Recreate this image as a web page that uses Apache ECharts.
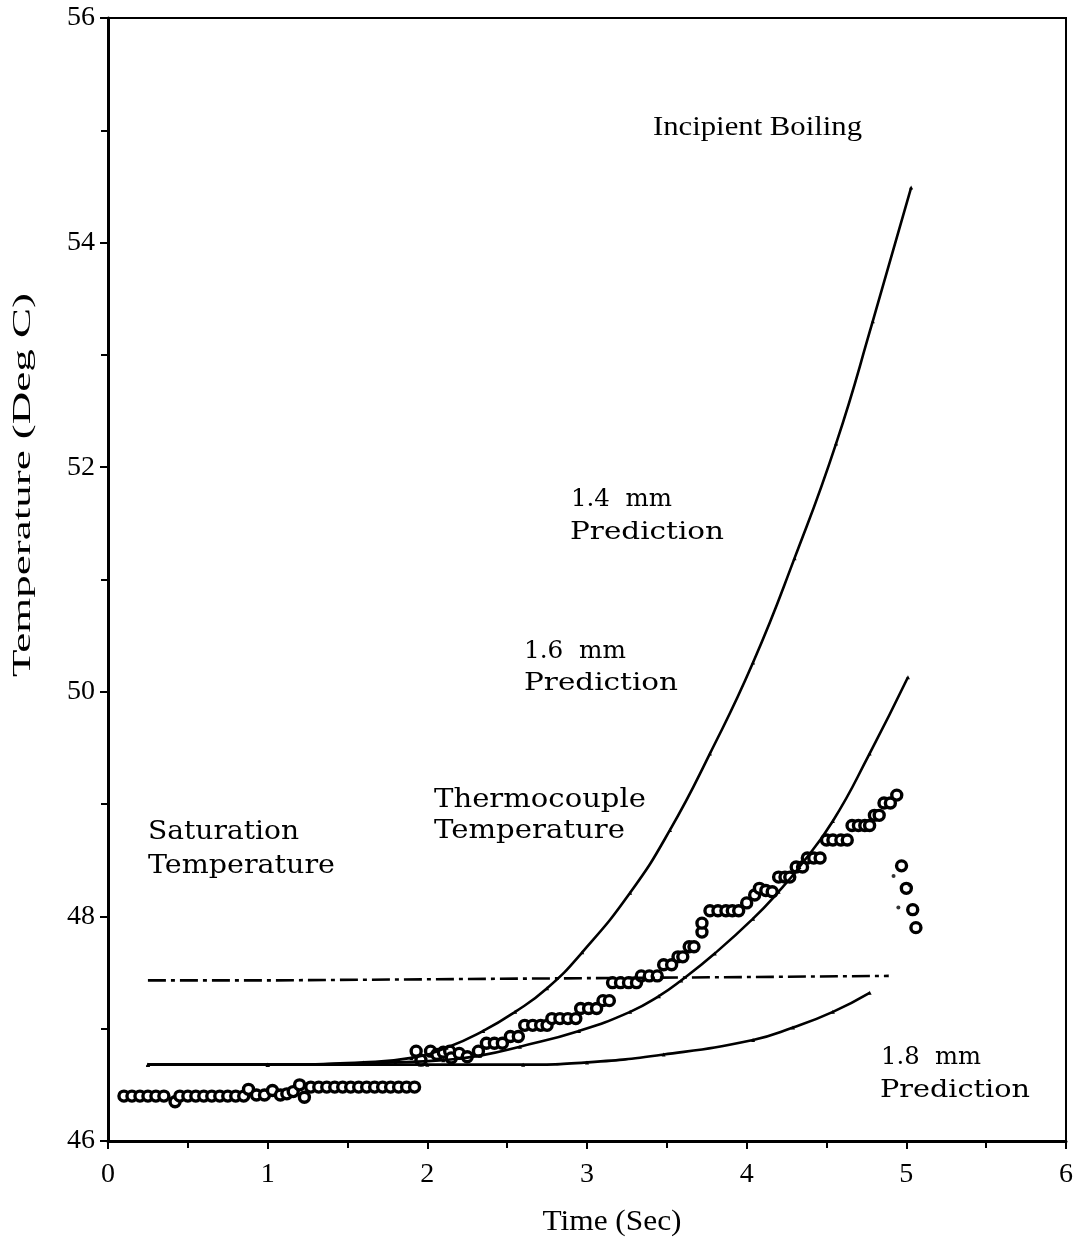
<!DOCTYPE html>
<html>
<head>
<meta charset="utf-8">
<script src="https://cdn.jsdelivr.net/npm/echarts@6/dist/echarts.min.js"></script>
<style>
  html, body { margin: 0; padding: 0; background: #ffffff; }
  #chart { width: 1076px; height: 1241px; }
</style>
</head>
<body>
<div id="chart"></div>
<script>
// Axis ticks
const timeTicks = [0, 1, 2, 3, 4, 5, 6];
const tempTicks = [46, 48, 50, 52, 54, 56];

// Thermocouple readings: time (s) and temperature (deg C)
const tcTime = [
  0.10, 0.15, 0.20, 0.25, 0.30, 0.35, 0.42, 0.45, 0.50, 0.55, 0.60, 0.65, 0.70, 0.75, 0.80, 0.85,
  0.88, 0.93, 0.98, 1.03, 1.08, 1.12, 1.16, 1.20, 1.23, 1.27, 1.32, 1.37, 1.42, 1.47, 1.52, 1.57,
  1.62, 1.67, 1.72, 1.77, 1.82, 1.87, 1.92,
  1.93, 1.96, 2.02, 2.06, 2.10, 2.14, 2.15, 2.20, 2.25, 2.32, 2.37, 2.42, 2.47, 2.52, 2.57, 2.61,
  2.66, 2.71, 2.75, 2.78, 2.83, 2.88, 2.93, 2.96, 3.01, 3.06, 3.10, 3.14, 3.16, 3.21, 3.26, 3.31,
  3.34, 3.39, 3.44, 3.48, 3.53, 3.57, 3.60, 3.64, 3.67, 3.72, 3.72, 3.77, 3.82, 3.87, 3.91, 3.95,
  4.00, 4.05, 4.08, 4.12, 4.16, 4.20, 4.24, 4.27, 4.31, 4.35, 4.38, 4.42, 4.46, 4.50, 4.54, 4.59,
  4.63, 4.66, 4.70, 4.74, 4.77, 4.80, 4.83, 4.86, 4.90, 4.94
];
const tcTemp = [
  46.40, 46.40, 46.40, 46.40, 46.40, 46.40, 46.35, 46.40, 46.40, 46.40, 46.40, 46.40, 46.40, 46.40, 46.40, 46.40,
  46.46, 46.41, 46.41, 46.45, 46.41, 46.42, 46.44, 46.50, 46.39, 46.48, 46.48, 46.48, 46.48, 46.48, 46.48, 46.48,
  46.48, 46.48, 46.48, 46.48, 46.48, 46.48, 46.48,
  46.80, 46.72, 46.80, 46.77, 46.79, 46.80, 46.74, 46.78, 46.75, 46.80, 46.87, 46.87, 46.87, 46.93, 46.93, 47.03,
  47.03, 47.03, 47.03, 47.09, 47.09, 47.09, 47.09, 47.18, 47.18, 47.18, 47.25, 47.25, 47.41, 47.41, 47.41, 47.41,
  47.47, 47.47, 47.47, 47.57, 47.57, 47.64, 47.64, 47.73, 47.73, 47.86, 47.94, 48.05, 48.05, 48.05, 48.05, 48.05,
  48.12, 48.19, 48.25, 48.23, 48.22, 48.35, 48.35, 48.35, 48.44, 48.44, 48.52, 48.52, 48.52, 48.68, 48.68, 48.68,
  48.68, 48.81, 48.81, 48.81, 48.81, 48.90, 48.90, 49.01, 49.01, 49.08
];
// Readings after the onset of boiling
const lateTime = [4.97, 5.00, 5.04, 5.06];
const lateTemp = [48.45, 48.25, 48.06, 47.90];
const dotTime = [4.92, 4.95, 5.02];
const dotTemp = [48.36, 48.08, 48.28];

// Saturation temperature
const satTime = [0.25, 1.0, 2.0, 3.0, 4.0, 4.89];
const satTemp = [47.43, 47.43, 47.44, 47.45, 47.46, 47.47];

// Model predictions at three depths
const p14Time = [0.25, 1.00, 1.60, 1.90, 2.12, 2.35, 2.55, 2.75, 2.97, 3.27, 3.52, 3.77, 4.04, 4.30, 4.56, 4.79, 5.03];
const p14Temp = [46.68, 46.68, 46.70, 46.74, 46.83, 46.98, 47.15, 47.36, 47.68, 48.21, 48.77, 49.45, 50.26, 51.19, 52.21, 53.30, 54.49];
const p16Time = [0.25, 1.00, 1.80, 2.10, 2.33, 2.58, 2.95, 3.27, 3.45, 3.59, 3.80, 4.04, 4.20, 4.33, 4.54, 4.77, 5.01];
const p16Temp = [46.68, 46.68, 46.70, 46.72, 46.76, 46.84, 46.98, 47.15, 47.29, 47.43, 47.67, 47.98, 48.22, 48.44, 48.85, 49.45, 50.13];
const p18Time = [0.25, 1.00, 2.00, 2.60, 3.00, 3.48, 4.04, 4.29, 4.54, 4.77];
const p18Temp = [46.68, 46.68, 46.68, 46.68, 46.70, 46.77, 46.90, 47.01, 47.15, 47.32];

const zip = (xs, ys) => xs.map((x, i) => [x, ys[i]]);

const chart = echarts.init(document.getElementById('chart'), null, { renderer: 'canvas' });

// Text helper: stretch a label horizontally so it spans a given width
const measureCtx = document.createElement('canvas').getContext('2d');
function label(text, x, y, fontSize, family, width, opts) {
  const font = fontSize + 'px ' + family;
  measureCtx.font = font;
  const w = measureCtx.measureText(text).width;
  const o = opts || {};
  return {
    type: 'text',
    x: x, y: y,
    rotation: o.rotation || 0,
    scaleX: width / w,
    z: 100,
    style: {
      text: text,
      font: font,
      fill: '#000',
      align: o.align || 'left',
      verticalAlign: 'middle'
    }
  };
}

const SERIF = '"Liberation Serif", "Times New Roman", serif';
const SLAB = '"DejaVu Serif", serif';

const lineCommon = {
  type: 'line',
  smooth: 0.5,
  symbol: 'triangle',
  symbolSize: 4,
  showAllSymbol: true,
  itemStyle: { color: '#000' },
  lineStyle: { color: '#000', width: 2.6 },
  z: 3,
  silent: true
};

const circleStyle = { color: '#fff', borderColor: '#000', borderWidth: 3.4, opacity: 1 };

chart.setOption({
  animation: false,
  backgroundColor: '#ffffff',
  grid: {
    left: 108, right: 9, top: 18, bottom: 100,
    show: true, borderColor: '#000', borderWidth: 2, backgroundColor: 'transparent'
  },
  xAxis: {
    type: 'value',
    min: timeTicks[0], max: timeTicks[timeTicks.length - 1],
    interval: timeTicks[1] - timeTicks[0],
    axisLine: { show: true, lineStyle: { color: '#000', width: 3 } },
    axisTick: { show: true, inside: false, length: 8, lineStyle: { color: '#000', width: 2 } },
    minorTick: { show: true, splitNumber: 2, length: 7, lineStyle: { color: '#000', width: 2 } },
    splitLine: { show: false },
    axisLabel: { color: '#000', fontFamily: SERIF, fontSize: 28, margin: 20 }
  },
  yAxis: {
    type: 'value',
    min: tempTicks[0], max: tempTicks[tempTicks.length - 1],
    interval: tempTicks[1] - tempTicks[0],
    axisLine: { show: true, lineStyle: { color: '#000', width: 3 } },
    axisTick: { show: true, inside: false, length: 8, lineStyle: { color: '#000', width: 2 } },
    minorTick: { show: true, splitNumber: 2, length: 7, lineStyle: { color: '#000', width: 2 } },
    splitLine: { show: false },
    axisLabel: { color: '#000', fontFamily: SERIF, fontSize: 28, margin: 13 }
  },
  graphic: [
    label('Temperature (Deg C)', 23, 485, 25, SERIF, 384, { rotation: Math.PI / 2, align: 'center' }),
    label('Time (Sec)', 612, 1222, 30, SERIF, 139, { align: 'center' }),
    label('Incipient Boiling', 653, 128, 28, SERIF, 209),
    label('1.4  mm', 571, 499, 25, SLAB, 101),
    label('Prediction', 570, 532, 25, SLAB, 154),
    label('1.6  mm', 524, 651, 25, SLAB, 102),
    label('Prediction', 524, 683, 25, SLAB, 154),
    label('Thermocouple', 434, 800, 26, SLAB, 212),
    label('Temperature', 434, 831, 26, SLAB, 191),
    label('Saturation', 148, 832, 26, SLAB, 151),
    label('Temperature', 148, 866, 26, SLAB, 187),
    label('1.8  mm', 881, 1057, 25, SLAB, 100),
    label('Prediction', 880, 1090, 25, SLAB, 150)
  ],
  series: [
    {
      name: 'Thermocouple Temperature',
      type: 'scatter',
      data: zip(tcTime, tcTemp),
      symbol: 'circle',
      symbolSize: 10,
      itemStyle: circleStyle,
      z: 2,
      silent: true
    },
    {
      name: 'Late readings',
      type: 'scatter',
      data: zip(lateTime, lateTemp),
      symbol: 'circle',
      symbolSize: 10,
      itemStyle: circleStyle,
      z: 2,
      silent: true
    },
    {
      name: 'Late dots',
      type: 'scatter',
      data: zip(dotTime, dotTemp),
      symbol: 'circle',
      symbolSize: 4,
      itemStyle: { color: '#000' },
      z: 2,
      silent: true
    },
    {
      name: 'Saturation Temperature',
      type: 'line',
      data: zip(satTime, satTemp),
      showSymbol: false,
      lineStyle: { color: '#000', width: 2.6, type: [18, 5, 4, 5] },
      z: 3,
      silent: true
    },
    Object.assign({ name: '1.4 mm Prediction', data: zip(p14Time, p14Temp) }, lineCommon),
    Object.assign({ name: '1.6 mm Prediction', data: zip(p16Time, p16Temp) }, lineCommon),
    Object.assign({ name: '1.8 mm Prediction', data: zip(p18Time, p18Temp) }, lineCommon)
  ]
});
</script>
</body>
</html>
